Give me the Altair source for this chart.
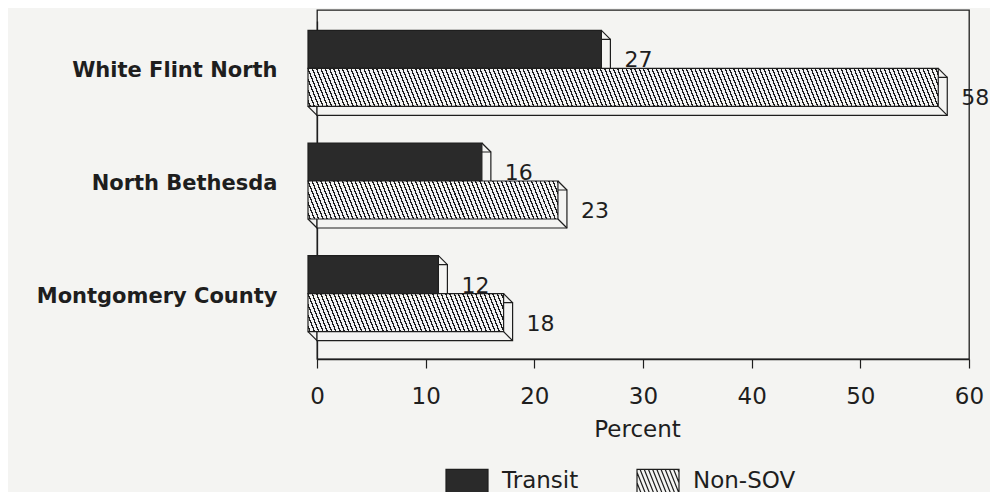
import altair as alt
import pandas as pd

# ---------------- data ----------------
regions = ["White Flint North", "North Bethesda", "Montgomery County"]
series = ["Transit", "Non-SOV"]
transit = [27, 16, 12]
non_sov = [58, 23, 18]
x_ticks = [0, 10, 20, 30, 40, 50, 60]

rows = []
for r, t, n in zip(regions, transit, non_sov):
    rows.append({"region": r, "series": "Transit", "value": t, "label": str(t)})
    rows.append({"region": r, "series": "Non-SOV", "value": n, "label": str(n)})
df = pd.DataFrame(rows)

# ---------------- style ----------------
BG = "#f4f4f2"
INK = "#1e1e1e"
DARK = "#2a2a2a"
FONT = "DejaVu Sans"
W, H = 652, 349
D = 9            # 3-D depth in px
PXU = W / 60.0   # px per percent
Y0, Y1 = 11, 349
STEP = (Y1 - Y0) / 3.0
BAR_H = 38.0
GAP = (STEP - 2 * BAR_H) / 2.0
K = 0.4          # hatch slant (dx/dy)
P = 4.3          # hatch period (px)
LW = 1.4         # hatch line width (px)


def hatch_gradient(value):
    w = value * PXU
    h = BAR_H
    lam = (w + K * h) / (w * w + K * K * h * h)
    a = lam * w
    b = -lam * K * h
    T = w + K * h
    stops = []
    g = 1.5
    while g < T:
        t0 = g / T
        t1 = min((g + LW) / T, 1.0)
        stops += [
            {"offset": round(t0, 5), "color": BG},
            {"offset": round(t0, 5), "color": INK},
            {"offset": round(t1, 5), "color": INK},
            {"offset": round(t1, 5), "color": BG},
        ]
        g += P
    return {"gradient": "linear", "x1": 0, "y1": 1, "x2": a, "y2": 1 + b, "stops": stops}


def hatch_symbol():
    hy = 0.5714
    parts = ["M-1,%.3fL1,%.3fL1,%.3fL-1,%.3fZ" % (-hy, -hy, hy, hy)]
    dxs = K * 2 * hy
    xs = -1 - dxs
    step = 0.2
    while xs < 1:
        s0 = max(0.0, (-1 - xs) / dxs)
        s1 = min(1.0, (1 - xs) / dxs)
        if s1 > s0:
            xa, ya = xs + dxs * s0, -hy + 2 * hy * s0
            xb, yb = xs + dxs * s1, -hy + 2 * hy * s1
            parts.append("M%.3f,%.3fL%.3f,%.3f" % (xa, ya, xb, yb))
        xs += step
    return "".join(parts)


RECT = "M-1,-0.5714L1,-0.5714L1,0.5714L-1,0.5714Z"
HATCH = hatch_symbol()
DIAG = "M-1,-1L1,1"

# ---------------- encodings ----------------
x_scale = alt.Scale(domain=[0, 60], nice=False, zero=True)
x_axis = alt.Axis(
    values=x_ticks, format="d", tickSize=9, tickColor=INK, tickWidth=1.2,
    labelFont=FONT, labelFontSize=23, labelColor=INK, labelPadding=17,
    labelFlush=False, labelOverlap=False, grid=False,
    domainColor=INK, domainWidth=1.3,
    titleFont=FONT, titleFontSize=23, titleFontWeight="normal", titleColor=INK,
    titleX=320, titleY=77, titleBaseline="alphabetic", titleAlign="center",
)
x_enc = alt.X("value:Q", scale=x_scale, axis=x_axis, title="Percent")
x_start = alt.X("start:Q", scale=x_scale, axis=x_axis, title="Percent")

y_enc = alt.Y(
    "region:N", sort=regions,
    scale=alt.Scale(range=[Y0, Y1], paddingInner=0, paddingOuter=0),
    axis=alt.Axis(
        title=None, ticks=False, tickSize=0, labelFont=FONT, labelFontWeight="bold",
        labelFontSize=21, labelColor=INK, labelPadding=40, labelOffset=-6,
        labelLimit=400, domainColor=INK, domainWidth=1.3,
    ),
)


def yo_band(shift):
    # band sub-scale for bars
    return alt.YOffset("series:N", sort=series,
                       scale=alt.Scale(domain=series,
                                       range=[GAP + shift, GAP + 2 * BAR_H + shift],
                                       paddingInner=0, paddingOuter=0))


def yo_point(shift):
    # point sub-scale (bar centres) for points / text
    return alt.YOffset("series:N", sort=series,
                       scale=alt.Scale(type="point", domain=series,
                                       range=[GAP + BAR_H / 2 + shift,
                                              GAP + 1.5 * BAR_H + shift],
                                       padding=0))


base = alt.Chart(df).transform_calculate(start="0").encode(y=y_enc)

# back faces
back = base.mark_bar(fill=BG, stroke=INK, strokeWidth=1.2).encode(
    x=x_enc, yOffset=yo_band(0))

# depth connectors
conn_style = dict(shape=DIAG, size=D * D, filled=False, stroke=INK,
                  strokeWidth=1.2, opacity=1, xOffset=-D / 2)
conn_tr = base.mark_point(**conn_style).encode(
    x=x_enc, yOffset=yo_point(-BAR_H / 2 - D / 2))
conn_br = base.mark_point(**conn_style).encode(
    x=x_enc, yOffset=yo_point(BAR_H / 2 - D / 2))
conn_bl = base.transform_filter(alt.datum.series == "Non-SOV").mark_point(
    **conn_style).encode(x=x_start, yOffset=yo_point(BAR_H / 2 - D / 2))

front_style = dict(stroke=INK, strokeWidth=1.2, xOffset=-D, x2Offset=-D)
front_t = base.transform_filter(alt.datum.series == "Transit").mark_bar(
    fill=DARK, **front_style).encode(x=x_enc, yOffset=yo_band(-D))

front_h = []
for r, n in zip(regions, non_sov):
    front_h.append(
        base.transform_filter(
            (alt.datum.series == "Non-SOV") & (alt.datum.region == r)
        ).mark_bar(fill=hatch_gradient(n), **front_style).encode(
            x=x_enc, yOffset=yo_band(-D))
    )

labels = base.mark_text(align="left", baseline="middle", dx=14, dy=2,
                        font=FONT, fontSize=22, color=INK).encode(
    x=x_enc, yOffset=yo_point(0), text="label:N")

leg = alt.Legend(
    title=None, orient="none", legendX=128, legendY=449, direction="horizontal",
    symbolSize=1764, symbolStrokeWidth=1.2,
    labelFont=FONT, labelFontSize=23, labelColor=INK, labelOffset=13,
    columnPadding=55, symbolOpacity=1,
)
legend_layer = base.mark_point(filled=True, size=0, opacity=1).encode(
    x=x_enc, yOffset=yo_point(0),
    fill=alt.Fill("series:N", sort=series,
                  scale=alt.Scale(domain=series, range=[DARK, BG]), legend=leg),
    stroke=alt.Stroke("series:N", sort=series,
                      scale=alt.Scale(domain=series, range=[INK, INK]), legend=leg),
    shape=alt.Shape("series:N", sort=series,
                    scale=alt.Scale(domain=series, range=[RECT, HATCH]), legend=leg),
)

chart = alt.layer(
    legend_layer, back, conn_tr, conn_br, conn_bl, front_t, *front_h, labels
).resolve_scale(yOffset="independent").properties(
    width=W, height=H,
    autosize=alt.AutoSizeParams(type="none"),
    padding={"left": 309, "top": 2, "right": 21, "bottom": 133},
    background=BG,
).configure_view(stroke=INK, strokeWidth=1.3, fill=None)

chart.save("out.html", embed_options={"renderer": "svg", "actions": False})
